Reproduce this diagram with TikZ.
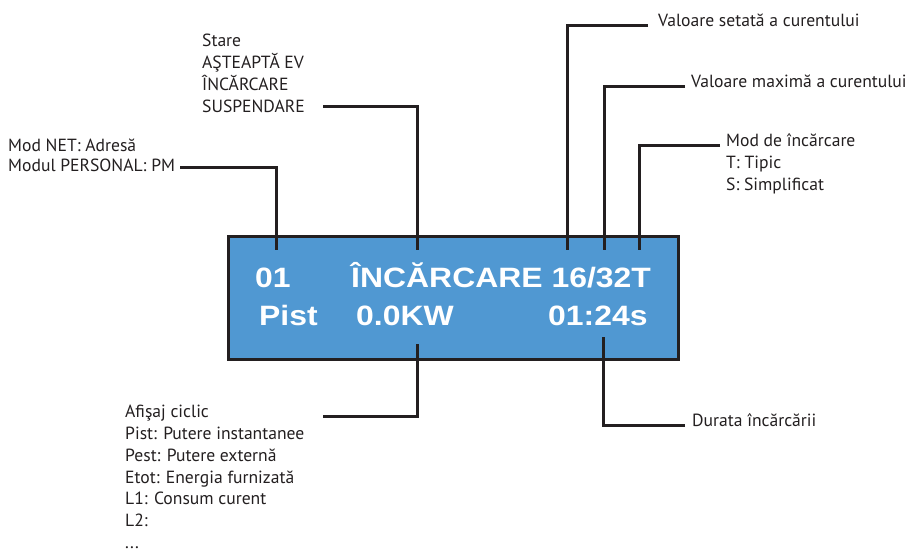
\documentclass[tikz,border=0pt]{standalone}
\usepackage{fontspec}
\setmainfont{PT Sans}
\newfontfamily\lcdfont[FakeStretch=1.14]{Liberation Sans}
\usepackage{xcolor}
\usepackage{tikz}

\definecolor{lcdblue}{RGB}{80,152,210}
\definecolor{ink}{RGB}{35,31,32}

\begin{document}
\begin{tikzpicture}[
  x=1pt,y=-1pt,
  lbl/.style={font=\fontsize{17.6}{21.8}\selectfont,text=ink,inner sep=0pt,align=left,anchor=base west},
  lcdtxt/.style={font=\lcdfont\bfseries\fontsize{28}{32}\selectfont,text=white,inner sep=0pt,anchor=base west},
  lead/.style={draw=ink,line width=3pt}]
\useasboundingbox (0,0) rectangle (911,552);
% display
\node[draw=ink,line width=3pt,fill=lcdblue,minimum width=450pt,minimum height=123pt,inner sep=0pt] (lcd) at (453,297.5) {};
\node[lcdtxt] (addr) at (255,287) {01};
\node[lcdtxt] (state) at (351,287) {ÎNCĂRCARE 16/32T};
\node[lcdtxt] (pist) at (259,325) {Pist};
\node[lcdtxt] (power) at (356,325) {0.0KW};
\node[lcdtxt] (time) at (548,325) {01:24s};
% labels (anchored on the last line)
\node[lbl,font=\fontsize{17.6}{20}\selectfont] (net) at (8,171.7) {Mod NET: Adresă\\Modul PERSONAL: PM};
\node[lbl] (stare) at (202,112.3) {Stare\\AŞTEAPTĂ EV\\ÎNCĂRCARE\\SUSPENDARE};
\node[lbl] (setat) at (658,26.5) {Valoare setată a curentului};
\node[lbl] (maxim) at (691,87) {Valoare maximă a curentului};
\node[lbl,font=\fontsize{17.6}{22}\selectfont] (modinc) at (726,190) {Mod de încărcare\\T: Tipic\\S: Simplificat};
\node[lbl] (ciclic) at (125,548.4) {Afişaj ciclic\\Pist: Putere instantanee\\Pest: Putere externă\\Etot: Energia furnizată\\L1: Consum curent\\L2:\\...};
\node[lbl] (durata) at (692,426) {Durata încărcării};
% leader ends
\coordinate (netEnd) at (180,167);   \coordinate (lcdAddr) at (276,250);
\coordinate (stEnd) at (323,106);    \coordinate (lcdState) at (417,250);
\coordinate (setEnd) at (648,25);    \coordinate (lcdSet) at (567,250);
\coordinate (maxEnd) at (685,86);    \coordinate (lcdMax) at (604,250);
\coordinate (modEnd) at (720,145);   \coordinate (lcdMod) at (639,250);
\coordinate (cicEnd) at (323,416);   \coordinate (lcdPow) at (417,344);
\coordinate (durEnd) at (685,425);   \coordinate (lcdTime) at (603,337);
\draw[lead] (netEnd) -| (lcdAddr);
\draw[lead] (stEnd) -| (lcdState);
\draw[lead] (setEnd) -| (lcdSet);
\draw[lead] (maxEnd) -| (lcdMax);
\draw[lead] (modEnd) -| (lcdMod);
\draw[lead] (cicEnd) -| (lcdPow);
\draw[lead] (durEnd) -| (lcdTime);
\end{tikzpicture}
\end{document}
